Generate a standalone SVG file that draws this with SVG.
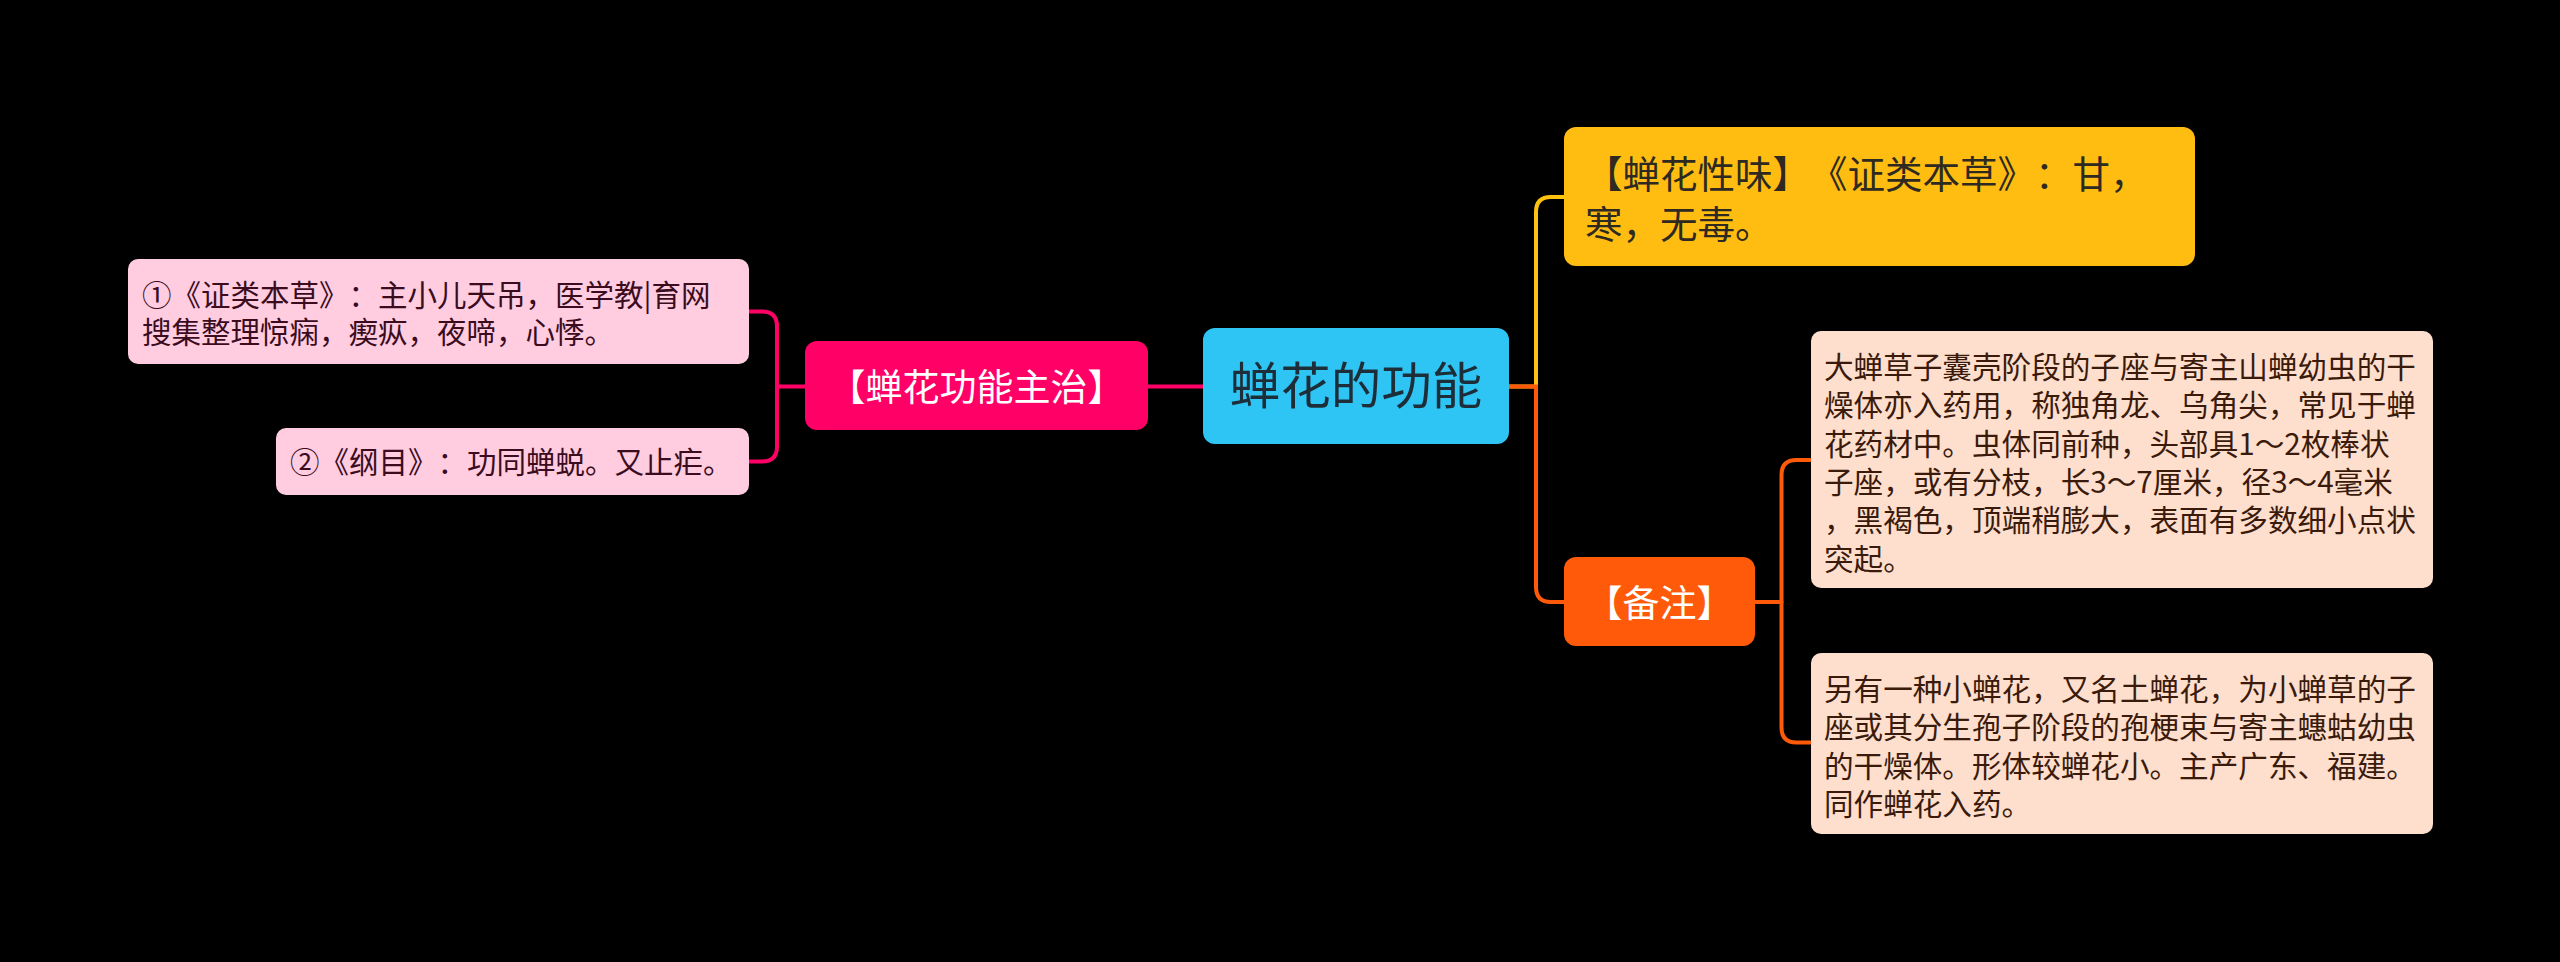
<svg xmlns="http://www.w3.org/2000/svg" width="2560" height="962" viewBox="0 0 2560 962">
<style>
text{font-family:"Noto Sans CJK SC","Noto Sans",sans-serif;text-spacing-trim:space-all;}
.conn{fill:none;stroke-width:4;stroke-linecap:round;}
.lp{fill:#FFCCE0;}
.lpt{fill:#3A0C1E;font-size:29.5px;}
.pe{fill:#FEDECD;}
.pet{fill:#3A1A0A;font-size:29.6px;}
</style>
<rect width="2560" height="962" fill="#000000"/>
<g id="connectors">
<path class="conn" stroke="#FF0066" d="M806 386.5 H777"/>
<path class="conn" stroke="#FF0066" d="M749 311.5 H762 Q777 311.5 777 326.5 V446.5 Q777 461.5 762 461.5 H749"/>
<path class="conn" stroke="#FF0066" d="M1148 386.5 H1203"/>
<path class="conn" stroke="#FFC20E" d="M1509 386.5 H1536 V212 Q1536 197 1551 197 H1564"/>
<path class="conn" stroke="#FF5A0A" d="M1509 386.5 H1536 V587 Q1536 602 1551 602 H1564"/>
<path class="conn" stroke="#FF5A0A" d="M1755 602 H1781.5"/>
<path class="conn" stroke="#FF5A0A" d="M1810 460 H1796.5 Q1781.5 460 1781.5 475 V727.5 Q1781.5 742.5 1796.5 742.5 H1810"/>
</g>
<g id="root">
<rect x="1203" y="328" width="306" height="116" rx="12" fill="#2EC5F5"/>
<text x="1356" y="404" font-size="50.5" fill="#1E2E38" text-anchor="middle">蝉花的功能</text>
</g>
<g id="main-treat">
<rect x="805" y="341" width="343" height="89" rx="12" fill="#FF0066"/>
<text x="976.5" y="401" font-size="37" fill="#FFFFFF" text-anchor="middle">【蝉花功能主治】</text>
</g>
<g id="treat-1">
<rect class="lp" x="128" y="259" width="621" height="105" rx="10"/>
<text class="lpt" x="142"><tspan x="142" y="306">①《证类本草》：主小儿天吊，医学教|育网</tspan><tspan x="142" y="343">搜集整理惊痫，瘈疭，夜啼，心悸。</tspan></text>
</g>
<g id="treat-2">
<rect class="lp" x="276" y="428" width="473" height="67" rx="10"/>
<text class="lpt" x="290" y="473">②《纲目》：功同蝉蜕。又止疟。</text>
</g>
<g id="nature">
<rect x="1564" y="127" width="631" height="139" rx="12" fill="#FFBD12"/>
<text x="1585" font-size="37.5" fill="#2E2A22"><tspan x="1585" y="188">【蝉花性味】《证类本草》：甘，</tspan><tspan x="1585" y="238">寒，无毒。</tspan></text>
</g>
<g id="note">
<rect x="1564" y="557" width="191" height="89" rx="12" fill="#FF5A0A"/>
<text x="1659.5" y="617" font-size="37" fill="#FFFFFF" text-anchor="middle">【备注】</text>
</g>
<g id="note-1">
<rect class="pe" x="1811" y="331" width="622" height="257" rx="10"/>
<text class="pet"><tspan x="1824" y="378">大蝉草子囊壳阶段的子座与寄主山蝉幼虫的干</tspan><tspan x="1824" y="416.3">燥体亦入药用，称独角龙、乌角尖，常见于蝉</tspan><tspan x="1824" y="454.6">花药材中。虫体同前种，头部具1～2枚棒状</tspan><tspan x="1824" y="493">子座，或有分枝，长3～7厘米，径3～4毫米</tspan><tspan x="1824" y="531.3">，黑褐色，顶端稍膨大，表面有多数细小点状</tspan><tspan x="1824" y="569.6">突起。</tspan></text>
</g>
<g id="note-2">
<rect class="pe" x="1811" y="653" width="622" height="181" rx="10"/>
<text class="pet"><tspan x="1824" y="700">另有一种小蝉花，又名土蝉花，为小蝉草的子</tspan><tspan x="1824" y="738.3">座或其分生孢子阶段的孢梗束与寄主蟪蛄幼虫</tspan><tspan x="1824" y="776.6">的干燥体。形体较蝉花小。主产广东、福建。</tspan><tspan x="1824" y="815">同作蝉花入药。</tspan></text>
</g>
</svg>
